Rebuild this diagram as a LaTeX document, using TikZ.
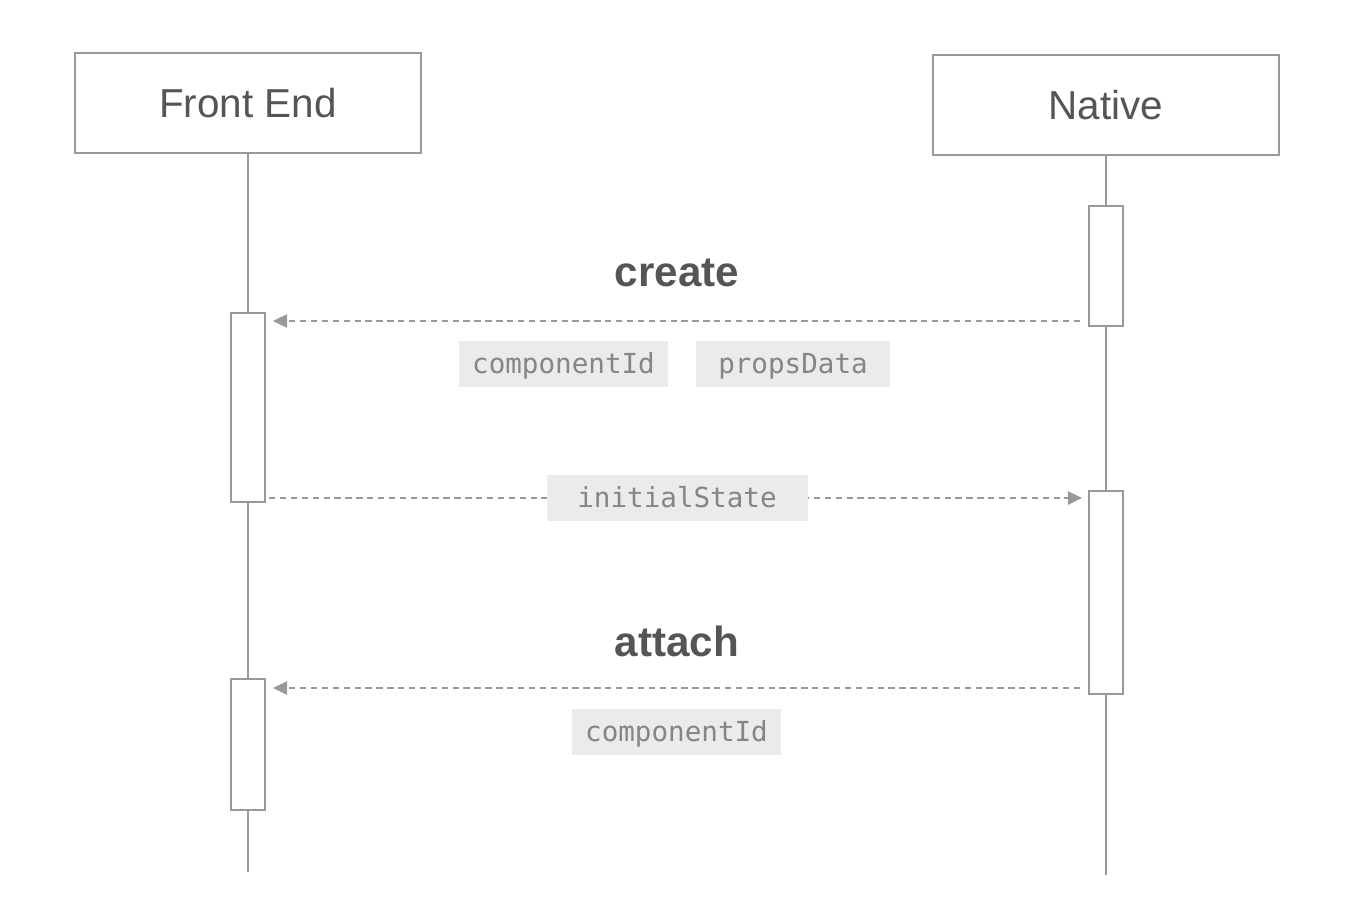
\documentclass[tikz,border=0pt]{standalone}
\usepackage{fontspec}
\setmainfont{Liberation Sans}
\setmonofont{DejaVu Sans Mono}
\usetikzlibrary{arrows.meta}
\usetikzlibrary{positioning}
\definecolor{linegray}{HTML}{999999}
\definecolor{textgray}{HTML}{555555}
\definecolor{taggray}{HTML}{EBEBEB}
\definecolor{tagtext}{HTML}{858585}
\tikzset{
    actor/.style={draw=linegray, line width=1.5pt, fill=white, minimum width=6.92cm, minimum height=2cm,
        text=textgray, font=\fontsize{23}{28}\selectfont},
    lifeline/.style={draw=linegray, line width=1.5pt},
    activation/.style={draw=linegray, line width=1.2pt, fill=white, minimum width=0.68cm, inner sep=0pt},
    message/.style={draw=linegray, line width=1.3pt, dash pattern=on 3.6pt off 2.6pt,
        -{Triangle[length=8pt,width=7.5pt]}},
    msglabel/.style={text=textgray, font=\fontsize{24}{28}\selectfont\bfseries},
    tag/.style={fill=taggray, text=tagtext, font=\ttfamily\fontsize{15.7}{18}\selectfont,
        inner xsep=0pt, minimum height=0.92cm, text height=13pt, text depth=2pt}
}
\begin{document}
\begin{tikzpicture}
\useasboundingbox (0,0) rectangle (26.94,-18.42);

% actors and lifelines
\node[actor] (front) at (4.96,-2.06) {Front End};
\node[actor] (native) at (22.12,-2.10) {Native};
\coordinate (frontend) at (4.96,-17.44);
\coordinate (nativeend) at (22.12,-17.50);
\draw[lifeline] (front.south) -- (frontend);
\draw[lifeline] (native.south) -- (nativeend);

% activations
\node[activation, minimum height=3.78cm] (fa1) at (4.96,-8.15) {};
\node[activation, minimum height=2.62cm] (fa2) at (4.96,-14.89) {};
\node[activation, minimum height=2.40cm] (na1) at (22.12,-5.32) {};
\node[activation, minimum height=4.06cm] (na2) at (22.12,-11.85) {};

% create
\coordinate (ycreate) at (0,-6.42);
\node[msglabel] (create) at (13.54,-5.46) {create};
\draw[message, shorten <=0.16cm, shorten >=0.14cm] (na1.west |- ycreate) -- (fa1.east |- ycreate);
\node[tag, minimum width=4.18cm] (cid1) at (11.27,-7.28) {componentId};
\node[tag, minimum width=3.88cm] (props) at (15.86,-7.28) {propsData};

% initial state
\coordinate (yinit) at (0,-9.96);
\draw[message, shorten <=0.06cm, shorten >=0.12cm] (fa1.east |- yinit) -- (na2.west |- yinit)
    node[tag, midway, minimum width=5.22cm] (init) {initialState};

% attach
\coordinate (yattach) at (0,-13.76);
\node[msglabel] (attach) at (13.54,-12.82) {attach};
\draw[message, shorten <=0.16cm, shorten >=0.14cm] (na2.west |- yattach) -- (fa2.east |- yattach);
\node[tag, minimum width=4.18cm] (cid2) at (13.53,-14.64) {componentId};
\end{tikzpicture}
\end{document}
